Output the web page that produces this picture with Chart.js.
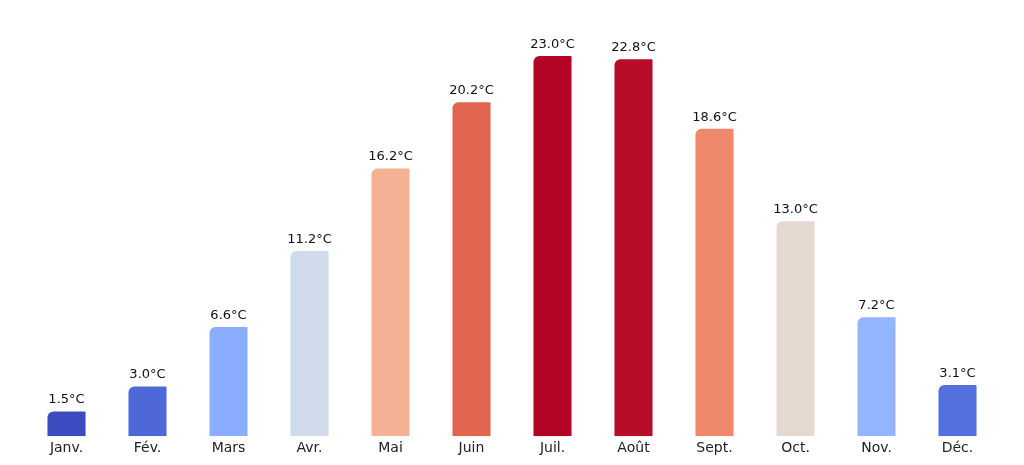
<!DOCTYPE html>
<html>
<head>
<meta charset="utf-8">
<script src="https://cdn.jsdelivr.net/npm/chart.js@4/dist/chart.umd.min.js"></script>
<style>
html,body{margin:0;padding:0;background:#fff;}
#wrap{width:1024px;height:465px;position:relative;}
</style>
</head>
<body>
<div id="wrap"><canvas id="c" width="1024" height="465"></canvas></div>
<script>
const months = ["Janv.","Fév.","Mars","Avr.","Mai","Juin","Juil.","Août","Sept.","Oct.","Nov.","Déc."];
const temps = [1.5, 3.0, 6.6, 11.2, 16.2, 20.2, 23.0, 22.8, 18.6, 13.0, 7.2, 3.1];
const barColors = ["#3b4cc0","#4e68d8","#8badfd","#cfdaea","#f5b194","#e0654f","#b40426","#b70d28","#ef886b","#e4d8d1","#93b5fe","#5470de"];

const valueLabels = {
  id: 'valueLabels',
  afterDatasetsDraw(chart) {
    const ctx = chart.ctx;
    const meta = chart.getDatasetMeta(0);
    ctx.save();
    ctx.font = '13px "DejaVu Sans"';
    ctx.fillStyle = '#111';
    ctx.textAlign = 'center';
    ctx.textBaseline = 'bottom';
    meta.data.forEach((bar, i) => {
      ctx.fillText(temps[i].toFixed(1) + '°C', bar.x, bar.y - 5);
    });
    ctx.restore();
  }
};

new Chart(document.getElementById('c'), {
  type: 'bar',
  data: {
    labels: months,
    datasets: [{
      data: temps,
      backgroundColor: barColors,
      borderWidth: 0,
      borderRadius: {topLeft: 6, topRight: 1, bottomLeft: 0, bottomRight: 0},
      borderSkipped: 'bottom',
      barPercentage: 0.47,
      categoryPercentage: 1.0
    }]
  },
  options: {
    responsive: false,
    animation: false,
    devicePixelRatio: 1,
    layout: {padding: {left: 26, right: 26, top: 23, bottom: 4}},
    plugins: {legend: {display: false}, tooltip: {enabled: false}},
    scales: {
      x: {
        grid: {display: false, drawTicks: false},
        border: {display: false},
        ticks: {font: {family: 'DejaVu Sans', size: 14}, color: '#222', padding: 4}
      },
      y: {
        display: false,
        min: 0,
        max: 25
      }
    }
  },
  plugins: [valueLabels]
});
</script>
</body>
</html>
